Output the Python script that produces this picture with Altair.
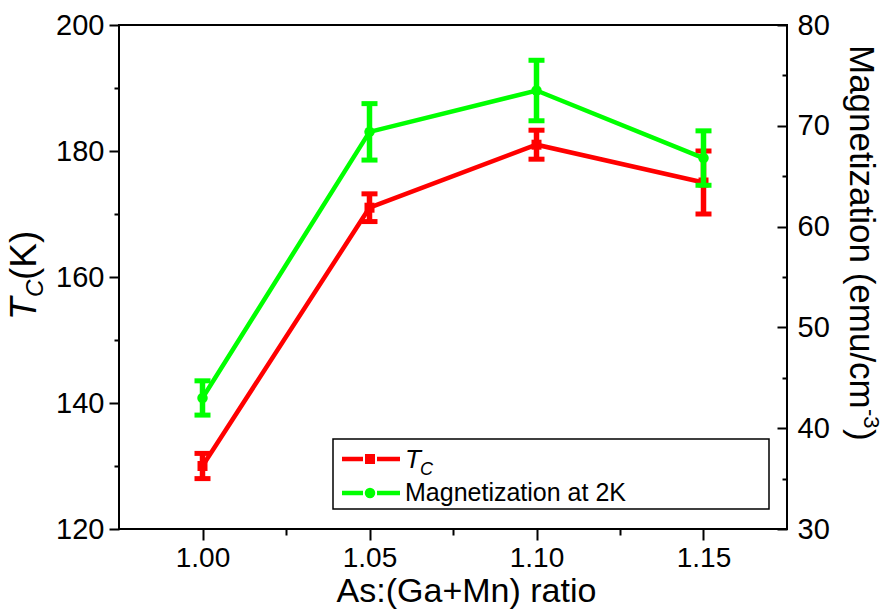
import altair as alt
import pandas as pd

# Measured values
ratio = [1.00, 1.05, 1.10, 1.15]
tc = [130.0, 171.0, 181.0, 175.0]
tc_err = [2.0, 2.2, 2.3, 5.0]
mag = [43.0, 69.4, 73.5, 66.8]
mag_err = [1.7, 2.8, 3.0, 2.7]

# Axis ticks
x_ticks = [1.00, 1.05, 1.10, 1.15]
x_minor = [1.025, 1.075, 1.125]
tc_ticks = [120, 140, 160, 180, 200]
tc_minor = [130, 150, 170, 190]
mag_ticks = [30, 40, 50, 60, 70, 80]
mag_minor = [35, 45, 55, 65, 75]

# Legend text
legend_labels = ["T", "C", "Magnetization at 2K"]

RED = "#ff0000"
GREEN = "#00ff00"
FONT = "Liberation Sans"
W, H = 668, 504

df = pd.DataFrame({"ratio": ratio, "tc": tc, "mag": mag})
df["tc_lo"] = [v - e for v, e in zip(tc, tc_err)]
df["tc_hi"] = [v + e for v, e in zip(tc, tc_err)]
df["mag_lo"] = [v - e for v, e in zip(mag, mag_err)]
df["mag_hi"] = [v + e for v, e in zip(mag, mag_err)]

one = pd.DataFrame({"k": [0]})

x_scale = alt.Scale(domain=[0.975, 1.175], nice=False, zero=False)
tc_scale = alt.Scale(domain=[120, 200], nice=False, zero=False)
mag_scale = alt.Scale(domain=[30, 80], nice=False, zero=False)

common_axis = dict(domain=False, grid=False, tickColor="black", tickWidth=2,
                   labelFont=FONT, labelColor="black")

x_main_axis = alt.Axis(values=x_ticks, format=".2f", orient="bottom", tickSize=11,
                       labelFontSize=28, labelPadding=4,
                       title="As:(Ga+Mn) ratio", titleFont=FONT, titleFontSize=34,
                       titleFontWeight="normal", titleColor="black",
                       titleX=347, titleY=72, titleAlign="center",
                       titleBaseline="alphabetic", **common_axis)
x_minor_axis = alt.Axis(values=x_minor, orient="bottom", tickSize=6, labels=False,
                        title=None, **common_axis)

tc_axis = alt.Axis(values=tc_ticks, orient="left", tickSize=10, labelFontSize=29,
                   labelPadding=5, title=None, **common_axis)
tc_minor_axis = alt.Axis(values=tc_minor, orient="left", tickSize=5, labels=False,
                         title=None, **common_axis)
mag_label_axis = alt.Axis(values=mag_ticks, orient="right", ticks=False, tickSize=0,
                          labelFontSize=29, labelPadding=10, title=None, **common_axis)
# inward ticks on the right side: a left-facing axis shifted onto the right edge
mag_in_axis = alt.Axis(values=mag_ticks, orient="left", offset=-W, tickSize=10,
                       labels=False, title=None, **common_axis)
mag_in_minor_axis = alt.Axis(values=mag_minor, orient="left", offset=-W, tickSize=5,
                             labels=False, title=None, **common_axis)


def X(axis=None):
    return alt.X("ratio:Q", scale=x_scale, axis=axis)


base = alt.Chart(df)

# Curie temperature series
tc_line = base.mark_line(color=RED, strokeWidth=4.5).encode(
    x=X(x_main_axis), y=alt.Y("tc:Q", scale=tc_scale, axis=tc_axis))
tc_bar = base.mark_rule(color=RED, strokeWidth=5.5).encode(
    x=X(), y=alt.Y("tc_lo:Q", scale=tc_scale, axis=None), y2="tc_hi:Q")
tc_caps = base.transform_fold(["tc_lo", "tc_hi"], as_=["end", "v"]).mark_tick(
    color=RED, orient="horizontal", size=16, thickness=5, opacity=1).encode(
    x=X(), y=alt.Y("v:Q", scale=tc_scale, axis=None))
tc_pts = base.mark_square(color=RED, size=100, opacity=1).encode(
    x=X(), y=alt.Y("tc:Q", scale=tc_scale, axis=None))

# Magnetization series
mag_line = base.mark_line(color=GREEN, strokeWidth=4.5).encode(
    x=X(), y=alt.Y("mag:Q", scale=mag_scale, axis=mag_label_axis))
mag_bar = base.mark_rule(color=GREEN, strokeWidth=5.5).encode(
    x=X(), y=alt.Y("mag_lo:Q", scale=mag_scale, axis=None), y2="mag_hi:Q")
mag_caps = base.transform_fold(["mag_lo", "mag_hi"], as_=["end", "v"]).mark_tick(
    color=GREEN, orient="horizontal", size=16, thickness=5, opacity=1).encode(
    x=X(), y=alt.Y("v:Q", scale=mag_scale, axis=None))
mag_pts = base.mark_circle(color=GREEN, size=110, opacity=1).encode(
    x=X(), y=alt.Y("mag:Q", scale=mag_scale, axis=None))

# Extra tick sets
minor_left = base.mark_point(opacity=0).encode(
    x=X(x_minor_axis), y=alt.Y("tc:Q", scale=tc_scale, axis=tc_minor_axis))
right_in = base.mark_point(opacity=0).encode(
    x=X(), y=alt.Y("mag:Q", scale=mag_scale, axis=mag_in_axis))
right_in_minor = base.mark_point(opacity=0).encode(
    x=X(), y=alt.Y("mag:Q", scale=mag_scale, axis=mag_in_minor_axis))


def txt(text, x, y, size, angle=0, style="normal"):
    return alt.Chart(one).mark_text(
        text=text, font=FONT, fontSize=size, fontStyle=style, angle=angle,
        align="left", baseline="alphabetic", color="black").encode(
        x=alt.value(x), y=alt.value(y))


# Left axis title: T_C(K)
left_title = [
    txt("T", -83, 295, 37, angle=270, style="italic"),
    txt("C", -76, 272, 24, angle=270, style="italic"),
    txt("(K)", -83, 255, 37, angle=270),
]

# Right axis title: Magnetization (emu/cm^-3)
right_title = [
    txt("Magnetization (emu/cm", 731, 20, 35, angle=90),
    txt("-3", 745, 384, 22, angle=90),
    txt(")", 731, 404, 35, angle=90),
]

# Legend
legend_box = alt.Chart(one).mark_rect(fill="white", stroke="black", strokeWidth=1.5).encode(
    x=alt.value(214), x2=alt.value(650), y=alt.value(414), y2=alt.value(484))


def sample(color, y, shape):
    segs = [
        alt.Chart(one).mark_rule(color=color, strokeWidth=4.5).encode(
            x=alt.value(223), x2=alt.value(244), y=alt.value(y)),
        alt.Chart(one).mark_rule(color=color, strokeWidth=4.5).encode(
            x=alt.value(258), x2=alt.value(281), y=alt.value(y)),
    ]
    if shape == "square":
        m = alt.Chart(one).mark_square(color=color, size=100, opacity=1)
    else:
        m = alt.Chart(one).mark_circle(color=color, size=110, opacity=1)
    segs.append(m.encode(x=alt.value(251), y=alt.value(y)))
    return segs


legend = [legend_box] + sample(RED, 434, "square") + sample(GREEN, 468, "circle") + [
    txt(legend_labels[0], 286, 443, 26, style="italic"),
    txt(legend_labels[1], 301, 450, 18, style="italic"),
    txt(legend_labels[2], 286, 476, 25),
]

chart = alt.layer(
    tc_line, tc_bar, tc_caps, tc_pts,
    mag_line, mag_bar, mag_caps, mag_pts,
    minor_left, right_in, right_in_minor,
    *left_title, *right_title, *legend,
).resolve_scale(y="independent").resolve_axis(x="independent", y="independent").properties(
    width=W, height=H,
    padding={"left": 119, "top": 25, "right": 889 - 119 - W, "bottom": 613 - 25 - H},
    autosize=alt.AutoSizeParams(type="none"),
    background="white",
).configure_view(stroke="black", strokeWidth=2)

chart.save("out.html", embed_options={"renderer": "svg", "actions": False})
